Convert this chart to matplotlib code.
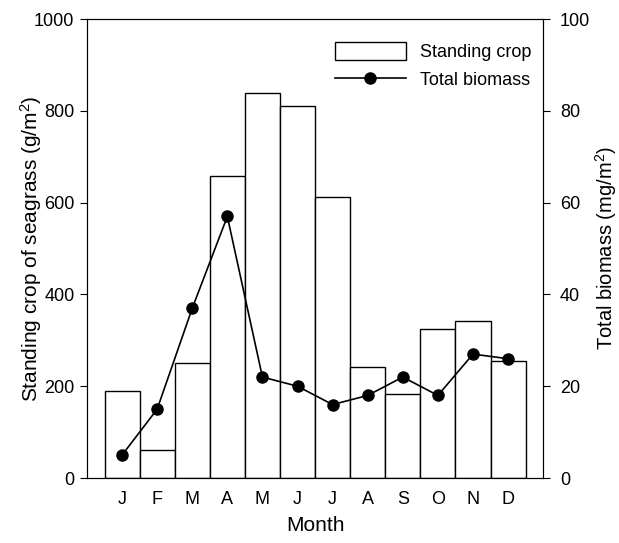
import matplotlib
matplotlib.use("Agg")
import matplotlib.pyplot as plt
import numpy as np

months = ["J", "F", "M", "A", "M", "J", "J", "A", "S", "O", "N", "D"]
standing_crop = [190, 62, 250, 658, 840, 810, 612, 242, 183, 324, 342, 255]
total_biomass = [5, 15, 37, 57, 22, 20, 16, 18, 22, 18, 27, 26]

plt.rcParams["font.family"] = ["Liberation Sans", "DejaVu Sans"]
plt.rcParams["font.size"] = 13
plt.rcParams["mathtext.default"] = "regular"

fig = plt.figure(figsize=(6.19, 5.43), dpi=100)
ax = fig.add_axes([0.1405, 0.1197, 0.737, 0.845])
x = np.arange(len(months))

bars = ax.bar(x, standing_crop, width=1.0, facecolor="white", edgecolor="black",
              linewidth=1.0, label="Standing crop")
ax.set_xlim(-1, 12)
ax.set_ylim(0, 1000)
ax.set_yticks(np.arange(0, 1001, 200))
ax.set_xticks(x)
ax.set_xticklabels(months)
ax.tick_params(axis="x", length=0, pad=9)
ax.tick_params(axis="y", direction="out", length=5, pad=4)
ax.set_xlabel("Month", fontsize=15, labelpad=6)
ax.set_ylabel("Standing crop of seagrass (g/m$^{2}$)", fontsize=15, labelpad=-7)

ax2 = ax.twinx()
line, = ax2.plot(x, total_biomass, color="black", marker="o", markersize=8,
                 linewidth=1.2, label="Total biomass")
ax2.set_ylim(0, 100)
ax2.set_yticks(np.arange(0, 101, 20))
ax2.tick_params(axis="y", direction="out", length=5, pad=7)
ax2.set_ylabel("Total biomass (mg/m$^{2}$)", fontsize=14.5, labelpad=2)

ax2.legend([bars, line], ["Standing crop", "Total biomass"], loc="upper right",
           frameon=False, handlelength=3.9, handleheight=1.1, handletextpad=0.8,
           labelspacing=0.5, bbox_to_anchor=(1.01, 0.985), fontsize=13)

plt.savefig("out.png", dpi=100)
